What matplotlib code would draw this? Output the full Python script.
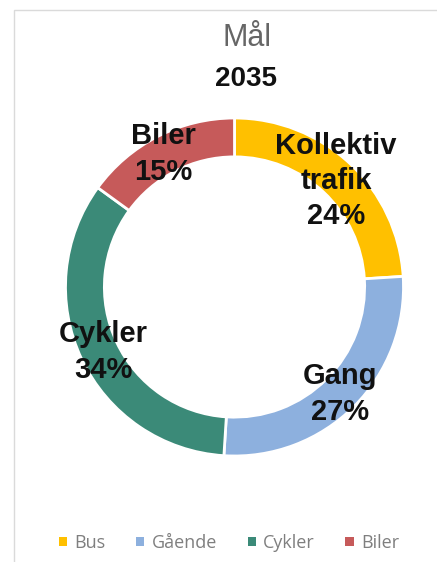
import matplotlib
matplotlib.use("Agg")
import matplotlib.pyplot as plt
from matplotlib.patches import Rectangle

categories = ["Bus", "Gående", "Cykler", "Biler"]
slice_labels = ["Kollektiv\ntrafik\n24%", "Gang\n27%", "Cykler\n34%", "Biler\n15%"]
values = [24, 27, 34, 15]
colors = ["#FFC000", "#8DB0DE", "#3B8A78", "#C65A5A"]

W, H = 437, 562
fig = plt.figure(figsize=(W / 100, H / 100), dpi=100)
fig.patch.set_facecolor("white")

# light frame
fig.add_artist(Rectangle((14 / W, -0.1), 1.2, 1 - 10 / H + 0.1, transform=fig.transFigure,
                         fill=False, edgecolor="#DADADA", linewidth=1.0))

cx, cy, R = 234.5, 287, 169
ax = fig.add_axes([(cx - R) / W, 1 - (cy + R) / H, 2 * R / W, 2 * R / H])
wedges, _ = ax.pie(values, colors=colors, startangle=90, counterclock=False, radius=1.0,
                   wedgeprops=dict(width=0.23, edgecolor="white", linewidth=2.0))
ax.set_xlim(-1, 1)
ax.set_ylim(-1, 1)
ax.set_aspect("equal")
ax.axis("off")

# label positions (in pixel coordinates of the reference)
label_pos = [(336, 181), (340, 394), (103, 352), (163, 154)]
for (px, py), txt in zip(label_pos, slice_labels):
    fig.text(px / W, 1 - py / H, txt, ha="center", va="center", family="Liberation Sans",
             fontweight="bold", fontsize=21, color="#111111", linespacing=1.32)

fig.text(247 / W, 1 - 38 / H, "Mål", ha="center", va="center", family="Liberation Sans",
         fontsize=22, color="#666666")
fig.text(246 / W, 1 - 79 / H, "2035", ha="center", va="center", family="Liberation Sans",
         fontweight="bold", fontsize=20, color="#111111")

handles = [Rectangle((0, 0), 1, 1, facecolor=c, edgecolor="none") for c in colors]
fig.legend(handles, categories, loc="center", bbox_to_anchor=(229 / W, 1 - 543 / H), ncol=4,
           frameon=False, handlelength=0.45, handleheight=0.45, handletextpad=0.4,
           columnspacing=1.7, prop=dict(family="Open Sans", size=13), labelcolor="#7F7F7F")

fig.savefig("out.png", dpi=100, facecolor="white")
